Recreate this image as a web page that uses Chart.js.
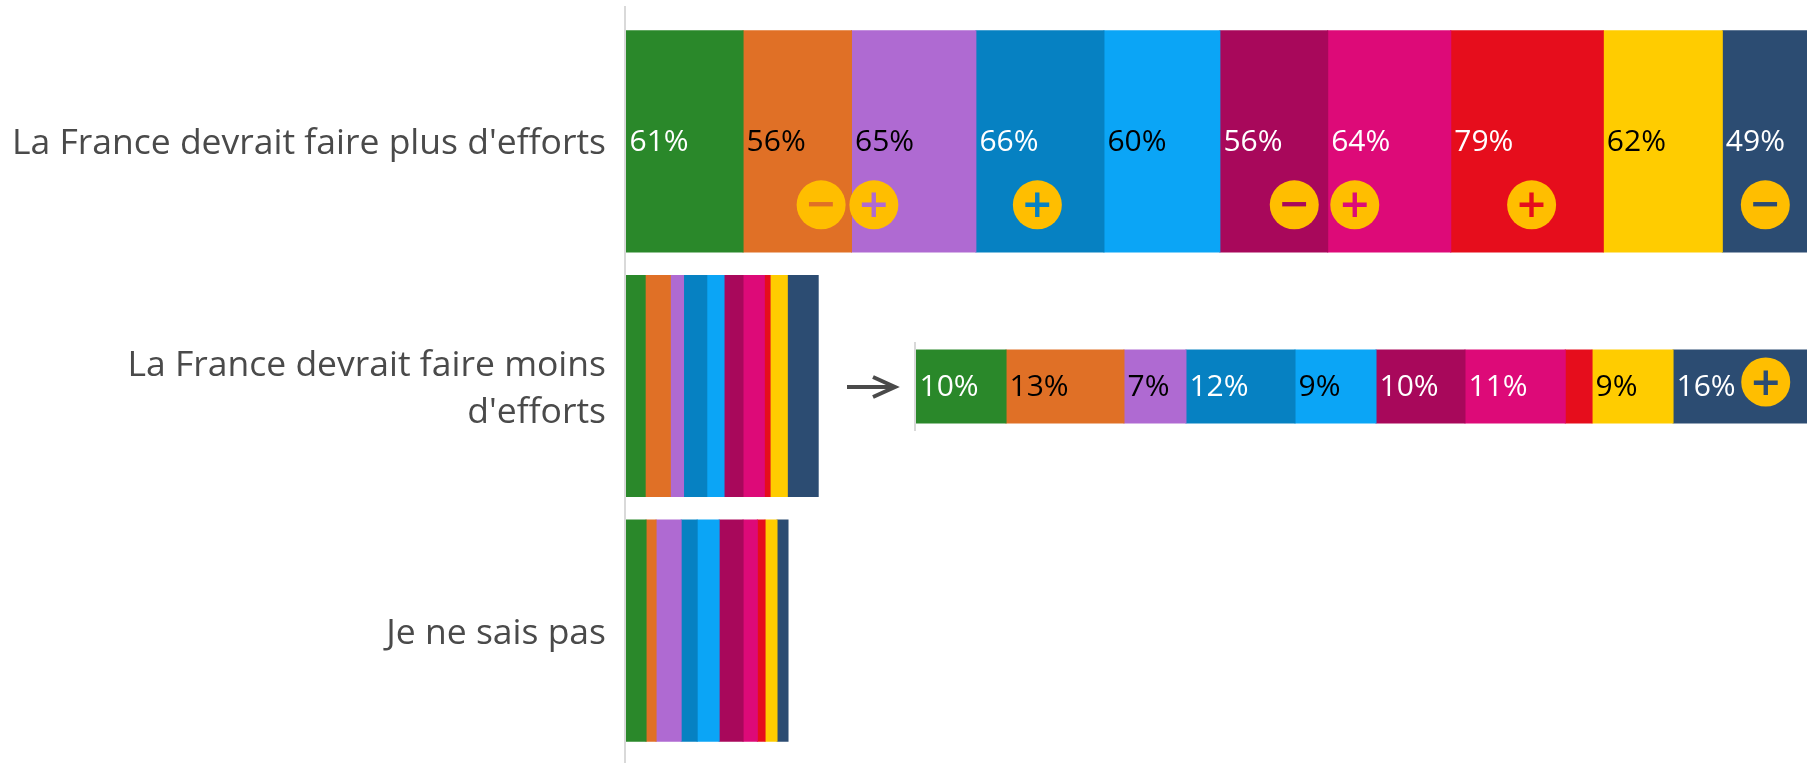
<!DOCTYPE html>
<html lang="fr">
<head>
<meta charset="utf-8">
<script src="https://cdn.jsdelivr.net/npm/chart.js@4"></script>
<style>
  html, body { margin: 0; padding: 0; background: #fff; overflow: hidden; }
  #wrap { position: relative; width: 1807px; height: 763px; }
  #mainCanvas { position: absolute; left: 0; top: 0; }
  #zoomCanvas { position: absolute; left: 900px; top: 342px; }
  #arrow { position: absolute; left: 840px; top: 367px; }
</style>
</head>
<body>
<div id="wrap">
  <canvas id="mainCanvas" width="1807" height="763"></canvas>
  <svg id="arrow" width="64" height="40" viewBox="0 0 64 40">
    <path d="M7 20 L55 20 M33 10 L55 20 L33 30" fill="none" stroke="#4a4a4a" stroke-width="4"/>
  </svg>
  <canvas id="zoomCanvas" width="907" height="89"></canvas>
</div>
<script>
const categories = [
  "La France devrait faire plus d'efforts",
  ["La France devrait faire moins", "d'efforts"],
  "Je ne sais pas",
];

const segmentColors = ["#2a882a", "#e07026", "#af6ad2", "#0681c2", "#0ba5f6", "#a8085b", "#dd0a78", "#e60d1c", "#ffcc00", "#2c4c72"];
const labelColors = ["#fff", "#000", "#000", "#fff", "#000", "#fff", "#fff", "#fff", "#000", "#fff"];

const plusEfforts = [60.7, 56.2, 64.5, 66.4, 60.1, 55.9, 63.8, 79.1, 61.7, 49];
const moinsEfforts = [9.95, 13.03, 6.85, 12.05, 8.95, 9.83, 11.08, 2.96, 8.95, 16];
const sansAvis = [10.4, 5.2, 13, 8.3, 11.4, 12.4, 7.4, 4, 6.2, 5.7];

// over / under representation marks, and where they sit inside their segment
const plusSigns = ["", "−", "+", "+", "", "−", "+", "+", "", "−"];
const plusSpots = [0, 0.72, 0.18, 0.48, 0, 0.69, 0.22, 0.53, 0, 0.455];
const moinsSigns = ["", "", "", "", "", "", "", "", "", "+"];
const moinsSpots = [0, 0, 0, 0, 0, 0, 0, 0, 0, 0.64];

const FONT = "'Open Sans', sans-serif";
const AXIS_COLOR = "#d9d9d9";
const BADGE_COLOR = "#ffbe00";

const makeDatasets = (rows, barPercentage) =>
  segmentColors.map((color, i) => ({
    data: rows.map((row) => row[i]),
    backgroundColor: color,
    borderWidth: 0,
    inflateAmount: 0.5,
    barPercentage,
    categoryPercentage: 1,
  }));

const stackPlugin = {
  id: "stackPlugin",
  afterDatasetsDraw(chart, args, opts) {
    const ctx = chart.ctx;
    const left = chart.scales.x.left;

    // axis line runs past the bands
    ctx.save();
    ctx.fillStyle = AXIS_COLOR;
    ctx.fillRect(left - 2, opts.axisTop, 2, opts.axisBottom - opts.axisTop);
    ctx.restore();

    ctx.save();
    ctx.beginPath();
    ctx.rect(chart.chartArea.left, 0, chart.chartArea.width, chart.height);
    ctx.clip();

    // percentages, only where they fit in the segment
    ctx.font = "400 " + opts.labelSize + "px " + FONT;
    ctx.textAlign = "left";
    ctx.textBaseline = "middle";
    segmentColors.forEach((color, i) => {
      chart.getDatasetMeta(i).data.forEach((bar, row) => {
        const value = chart.data.datasets[i].data[row];
        const text = Math.round(value) + "%";
        if (ctx.measureText(text).width + 6 > bar.x - bar.base) return;
        ctx.fillStyle = labelColors[i];
        ctx.fillText(text, bar.base + 3.5, bar.y + 1);
      });
    });

    opts.badges.forEach((badge) => {
      badge.signs.forEach((sign, i) => {
        if (!sign) return;
        const bar = chart.getDatasetMeta(i).data[badge.row];
        const cx = bar.base + (bar.x - bar.base) * badge.spots[i];
        const cy = bar.y + opts.badgeDy;
        ctx.fillStyle = BADGE_COLOR;
        ctx.beginPath();
        ctx.arc(cx, cy, 24.5, 0, Math.PI * 2);
        ctx.fill();
        ctx.fillStyle = segmentColors[i];
        ctx.font = "600 50px " + FONT;
        ctx.textAlign = "center";
        ctx.textBaseline = "alphabetic";
        const m = ctx.measureText(sign);
        ctx.fillText(sign, cx, cy + (m.actualBoundingBoxAscent - m.actualBoundingBoxDescent) / 2);
      });
    });
    ctx.restore();
  },
};

const baseOptions = {
  responsive: false,
  animation: false,
  indexAxis: "y",
  events: [],
  plugins: { legend: { display: false }, tooltip: { enabled: false } },
};

new Chart(document.getElementById("mainCanvas"), {
  type: "bar",
  data: { labels: categories, datasets: makeDatasets([plusEfforts, moinsEfforts, sansAvis], 0.904) },
  plugins: [stackPlugin],
  options: {
    ...baseOptions,
    layout: { padding: { top: 19, bottom: 10 } },
    plugins: {
      ...baseOptions.plugins,
      stackPlugin: {
        axisTop: 6,
        axisBottom: 763,
        labelSize: 30,
        badgeDy: 63.5,
        badges: [{ row: 0, signs: plusSigns, spots: plusSpots }],
      },
    },
    scales: {
      x: { stacked: true, display: false, min: 0, max: 612.3 },
      y: {
        stacked: true,
        afterFit: (scale) => {
          scale.width = 626;
          scale.paddingTop = 0;
          scale.paddingBottom = 0;
        },
        border: { display: false },
        grid: { display: false },
        ticks: { color: "#4a4a4a", padding: 12, labelOffset: 3, font: { family: FONT, size: 35.5, lineHeight: 1.33 } },
      },
    },
  },
});

new Chart(document.getElementById("zoomCanvas"), {
  type: "bar",
  data: { labels: [categories[1]], datasets: makeDatasets([moinsEfforts], 0.82) },
  plugins: [stackPlugin],
  options: {
    ...baseOptions,
    layout: { padding: 0 },
    plugins: {
      ...baseOptions.plugins,
      stackPlugin: {
        axisTop: 0,
        axisBottom: 89,
        labelSize: 30,
        badgeDy: -4.5,
        badges: [{ row: 0, signs: moinsSigns, spots: moinsSpots }],
      },
    },
    scales: {
      x: { stacked: true, display: false, min: 0, max: 98.45 },
      y: {
        stacked: true,
        afterFit: (scale) => { scale.width = 16; },
        border: { display: false },
        grid: { display: false },
        ticks: { display: false },
      },
    },
  },
});
</script>
</body>
</html>
